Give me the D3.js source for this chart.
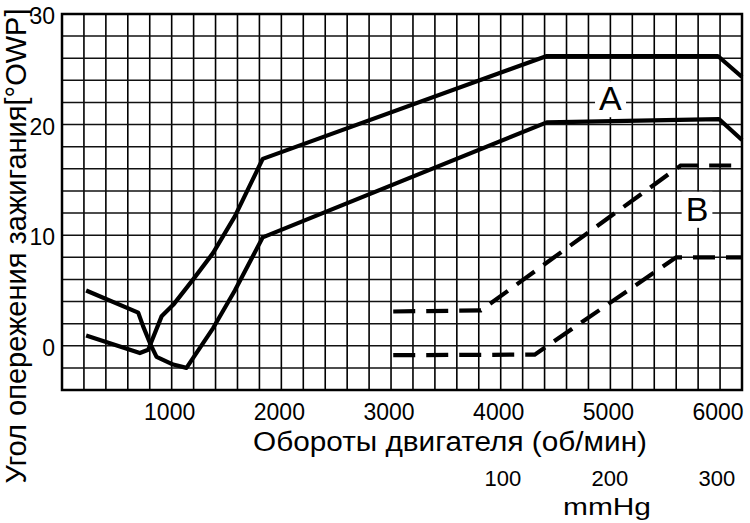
<!DOCTYPE html>
<html>
<head>
<meta charset="utf-8">
<script src="https://cdn.jsdelivr.net/npm/d3@7"></script>
<style>
  body { margin: 0; background: #fff; }
  text { font-family: "Liberation Sans", Arial, sans-serif; fill: #000; }
</style>
</head>
<body>
<div id="chart"></div>
<script>
// data: [rpm, degrees]
var curveA1 = [[220,0.93],[710,-0.66],[786,-0.36],[908,2.66],[1014,3.7],[1196,6.0],[1378,8.4],[1576,11.7],[1830,16.9],[4420,26.2],[5980,26.2],[6200,24.3]];
var curveA2 = [[220,5.0],[695,3.0],[740,1.75],[808,0.1],[862,-1.0],[1014,-1.7],[1135,-2.0],[1378,1.6],[1576,5.0],[1830,9.8],[4420,20.2],[5990,20.5],[6200,18.6]];
var curveB1 = [[3020,3.1],[3820,3.2],[5640,16.3],[6200,16.3]];
var curveB2 = [[3020,-0.85],[4310,-0.8],[5600,8.0],[6200,8.0]];

var rpmTicks = [1000,2000,3000,4000,5000,6000];
var degTicks = [0,10,20,30];
var mmTicks = [100,200,300];

var width = 750, height = 523;
var margin = {top: 14, right: 8, bottom: 133, left: 62};

var svg = d3.select("#chart")
  .append("svg")
    .attr("width", width)
    .attr("height", height);

var x = d3.scaleLinear()
  .domain([0, 6200])
  .range([margin.left, width - margin.right]);

var y = d3.scaleLinear()
  .domain([-4, 30])
  .range([height - margin.bottom, margin.top]);

// mmHg scale printed under the rpm axis
var mm = d3.scaleLinear()
  .domain([100, 300])
  .range([4020, 5970]);

//gridlines
svg.append("g")
  .selectAll("line")
  .data(d3.range(0, 6201, 200))
  .enter()
  .append("line")
    .attr("x1", function(d) { return x(d) })
    .attr("x2", function(d) { return x(d) })
    .attr("y1", y(30))
    .attr("y2", y(-4))
    .style("stroke", "#000")
    .style("stroke-width", 1.6);

svg.append("g")
  .selectAll("line")
  .data(d3.range(-4, 31, 2))
  .enter()
  .append("line")
    .attr("x1", x(0))
    .attr("x2", x(6200))
    .attr("y1", function(d) { return y(d) })
    .attr("y2", function(d) { return y(d) })
    .style("stroke", "#111")
    .style("stroke-width", 1.5);

// frame
svg.append("rect")
  .attr("x", x(0))
  .attr("y", y(30))
  .attr("width", x(6200) - x(0))
  .attr("height", y(-4) - y(30))
  .attr("fill", "none")
  .attr("stroke", "#000")
  .attr("stroke-width", 2.5);

// curve labels with white knock-out
function label(txt, rpm, deg) {
  var t = svg.append("text")
    .attr("x", x(rpm))
    .attr("y", y(deg))
    .attr("text-anchor", "middle")
    .style("font-size", "34px")
    .text(txt);
  var b = t.node().getBBox();
  svg.insert("rect", "text")
    .attr("x", b.x - 4)
    .attr("y", b.y + 2)
    .attr("width", b.width + 8)
    .attr("height", b.height - 2)
    .attr("fill", "#fff");
}
label("A", 5000, 21.3);
label("B", 5790, 11.3);

var line = d3.line()
  .x(function(d) { return x(d[0]) })
  .y(function(d) { return y(d[1]) });

[curveA1, curveA2].forEach(function(c) {
  svg.append("path")
    .datum(c)
    .attr("fill", "none")
    .attr("stroke", "#000")
    .attr("stroke-width", 4.2)
    .attr("stroke-linejoin", "round")
    .attr("d", line);
});

[curveB1, curveB2].forEach(function(c) {
  svg.append("path")
    .datum(c)
    .attr("fill", "none")
    .attr("stroke", "#000")
    .attr("stroke-width", 4.2)
    .attr("stroke-dasharray", "22,11")
    .attr("d", line);
});

// tick labels
svg.append("g")
  .selectAll("text")
  .data(degTicks)
  .enter()
  .append("text")
    .attr("x", x(0) - 7)
    .attr("y", function(d) { return y(d) + 10 })
    .attr("text-anchor", "end")
    .style("font-size", "23px")
    .text(function(d) { return d });

svg.append("g")
  .selectAll("text")
  .data(rpmTicks)
  .enter()
  .append("text")
    .attr("x", function(d) { return x(d) - 2 })
    .attr("y", 420)
    .attr("text-anchor", "middle")
    .style("font-size", "23px")
    .text(function(d) { return d });

svg.append("g")
  .selectAll("text")
  .data(mmTicks)
  .enter()
  .append("text")
    .attr("x", function(d) { return x(mm(d)) })
    .attr("y", 486)
    .attr("text-anchor", "middle")
    .style("font-size", "22px")
    .text(function(d) { return d });

//axes labels
svg.append("text")
  .attr("x", 450)
  .attr("y", 451)
  .attr("text-anchor", "middle")
  .attr("textLength", 394)
  .attr("lengthAdjust", "spacingAndGlyphs")
  .style("font-size", "27px")
  .text("Обороты двигателя (об/мин)");

svg.append("text")
  .attr("x", 607)
  .attr("y", 515)
  .attr("text-anchor", "middle")
  .attr("textLength", 88)
  .attr("lengthAdjust", "spacingAndGlyphs")
  .style("font-size", "24px")
  .text("mmHg");

svg.append("text")
  .attr("transform", "translate(26,246) rotate(-90)")
  .attr("text-anchor", "middle")
  .style("font-size", "29px")
  .text("Угол опережения зажигания[°OWP]");
</script>
</body>
</html>
